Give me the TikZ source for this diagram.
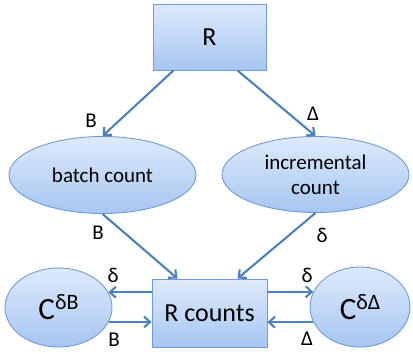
\documentclass[tikz,border=0pt]{standalone}
\usepackage{fontspec}
\setmainfont{Carlito}
\usetikzlibrary{arrows.meta,shapes.geometric}
\definecolor{edgeblue}{HTML}{4C80C0}
\definecolor{fillTop}{HTML}{DEEAFB}
\definecolor{fillBot}{HTML}{A6C6F2}
\definecolor{borderblue}{HTML}{6E9CD6}
\tikzset{
  boxnode/.style={draw=borderblue, line width=0.9pt, top color=fillTop, bottom color=fillBot,
    rectangle, inner sep=0pt, font=\fontsize{26}{30}\selectfont},
  ellnode/.style={draw=borderblue, line width=0.9pt, top color=fillTop, bottom color=fillBot,
    ellipse, inner sep=0pt, font=\fontsize{21}{25}\selectfont, align=center},
  arr/.style={draw=edgeblue, line width=2.1pt, -{Straight Barb[length=6pt,width=11pt]}},
  lab/.style={font=\fontsize{21}{23}\selectfont, inner sep=0pt}
}
\newcommand{\bigC}[1]{{\fontsize{31}{32}\selectfont C}\raisebox{10pt}{\fontsize{22}{24}\selectfont #1}}
\begin{document}
\begin{tikzpicture}[x=1pt,y=-1pt]
\useasboundingbox (0,0) rectangle (413,354);
\node[boxnode, minimum width=113pt, minimum height=66pt] (R) at (209.5,37) {R};
\node[ellnode, minimum width=187pt, minimum height=77pt] (bc) at (102.5,175) {batch count};
\node[ellnode, minimum width=187pt, minimum height=76pt] (ic) at (315.5,174.5) {incremental\\count};
\node[boxnode, minimum width=115pt, minimum height=68pt] (rc) at (209.5,313) {R counts};
\node[ellnode, minimum width=107pt, minimum height=79pt] (cb) at (58.5,307.5) {\bigC{δB}};
\node[ellnode, minimum width=100pt, minimum height=80pt] (cd) at (360,307) {\bigC{δΔ}};

\draw[arr] ([xshift=-36pt]R.south) -- (bc.north);
\draw[arr] ([xshift=28pt]R.south) -- (ic.north);
\draw[arr] (bc.south) -- ([xshift=-32pt]rc.north);
\draw[arr] (ic.south) -- ([xshift=28pt]rc.north);
\draw[arr] (rc.west |- cb.17) -- (cb.17);
\draw[arr] (cb.-16) -- (rc.west |- cb.-16);
\draw[arr] (rc.east |- cd.162) -- (cd.162);
\draw[arr] (cd.-162) -- (rc.east |- cd.-162);

\node[lab] (l1) at (91,121) {B};
\node[lab] (l2) at (313,114) {Δ};
\node[lab] (l3) at (98,233) {B};
\node[lab] (l4) at (322,235) {δ};
\node[lab] (l5) at (113,275) {δ};
\node[lab] (l6) at (114,340) {B};
\node[lab] (l7) at (307,275) {δ};
\node[lab] (l8) at (307,339) {Δ};
\end{tikzpicture}
\end{document}
